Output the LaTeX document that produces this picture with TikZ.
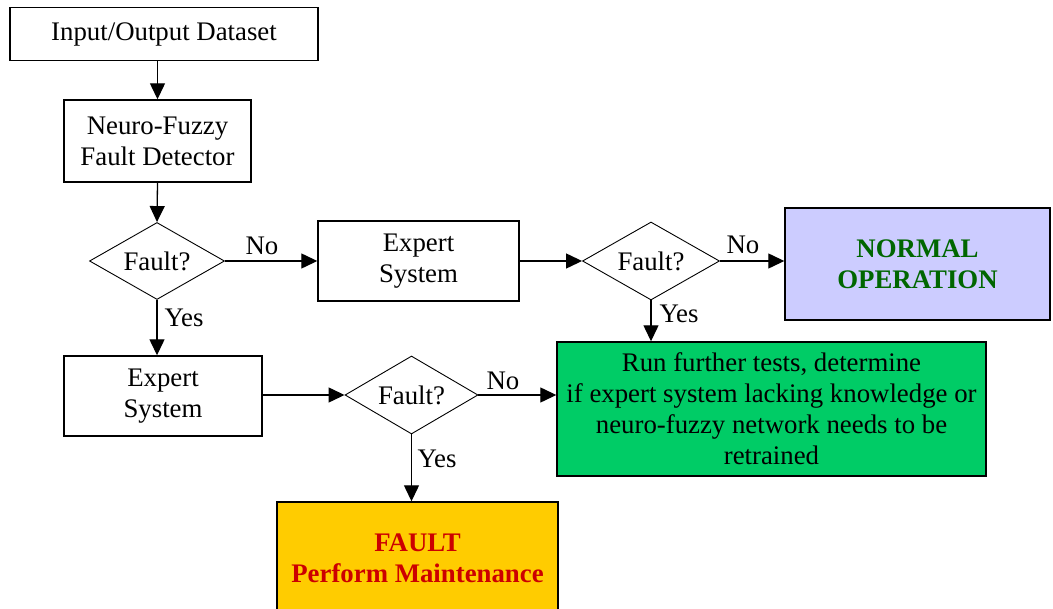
\documentclass[tikz,border=0pt]{standalone}
\usepackage{fontspec}
\setmainfont{Liberation Serif}
\usetikzlibrary{shapes.geometric,arrows.meta}
\definecolor{lavender}{RGB}{204,204,255}
\definecolor{gold}{RGB}{255,204,0}
\definecolor{okgreen}{RGB}{0,204,102}
\definecolor{darkgreen}{RGB}{0,102,0}
\definecolor{alertred}{RGB}{204,0,0}
\begin{document}
\begin{tikzpicture}[x=1pt,y=-1pt,
  font=\fontsize{26.8}{31}\selectfont,
  box/.style={draw,line width=1.4pt,rectangle,inner sep=0pt,align=center},
  decision/.style={draw,line width=0.9pt,diamond,inner sep=0pt},
  flow/.style={line width=1.3pt,-{Triangle[length=16pt,width=15pt]}},
  lbl/.style={inner sep=0pt}]
\clip (0,0) rectangle (1053,609);
\fill[white] (0,0) rectangle (1053,609);

% process boxes
\node[box,minimum width=308,minimum height=53] (io) at (164,34) {Input/Output Dataset};
\node[box,minimum width=187,minimum height=82] (nf) at (157.5,141) {Neuro-Fuzzy\\Fault Detector};
\node[box,minimum width=201,minimum height=80] (es1) at (418.5,261) {Expert\\System};
\node[box,minimum width=198,minimum height=80] (es2) at (163,396) {Expert\\System};

% decisions
\node[decision,minimum width=135,minimum height=77,aspect=1.75] (d1) at (157,261) {Fault?};
\node[decision,minimum width=137,minimum height=78,aspect=1.75] (d2) at (651,261) {Fault?};
\node[decision,minimum width=133,minimum height=78,aspect=1.7] (d3) at (411.5,395) {Fault?};

% outcomes
\node[box,fill=lavender,minimum width=265,minimum height=112,text=darkgreen,font=\fontsize{26.8}{31}\selectfont\bfseries]
  (normal) at (917.5,264) {NORMAL\\OPERATION};
\node[box,fill=okgreen,minimum width=429,minimum height=134] (tests) at (771.5,409)
  {Run further tests, determine\\if expert system lacking knowledge or\\neuro-fuzzy network needs to be\\retrained};
\node[box,fill=gold,minimum width=281,minimum height=112,text=alertred,font=\fontsize{26.8}{31}\selectfont\bfseries]
  (fault) at (417.5,558) {FAULT\\Perform Maintenance};

% connectors
\draw[flow] (nf.north |- io.south) -- (nf.north);
\draw[flow] (nf.south) -- (d1.north);
\draw[flow] (d1.east) -- (es1.west);
\draw[flow] (d1.south) -- (d1.south |- es2.north);
\draw[flow] (es1.east) -- (d2.west);
\draw[flow] (d2.east) -- (d2.east -| normal.west);
\draw[flow] (d2.south) -- (d2.south |- tests.north);
\draw[flow] (es2.east |- d3.west) -- (d3.west);
\draw[flow] (d3.east) -- (d3.east -| tests.west);
\draw[flow] (d3.south) -- (d3.south |- fault.north);

% branch labels
\node[lbl] (n1) at (262,246) {No};
\node[lbl] (y1) at (184,318) {Yes};
\node[lbl] (n2) at (743,245) {No};
\node[lbl] (y2) at (679,314) {Yes};
\node[lbl] (n3) at (503,381) {No};
\node[lbl] (y3) at (437,459) {Yes};
\end{tikzpicture}
\end{document}
